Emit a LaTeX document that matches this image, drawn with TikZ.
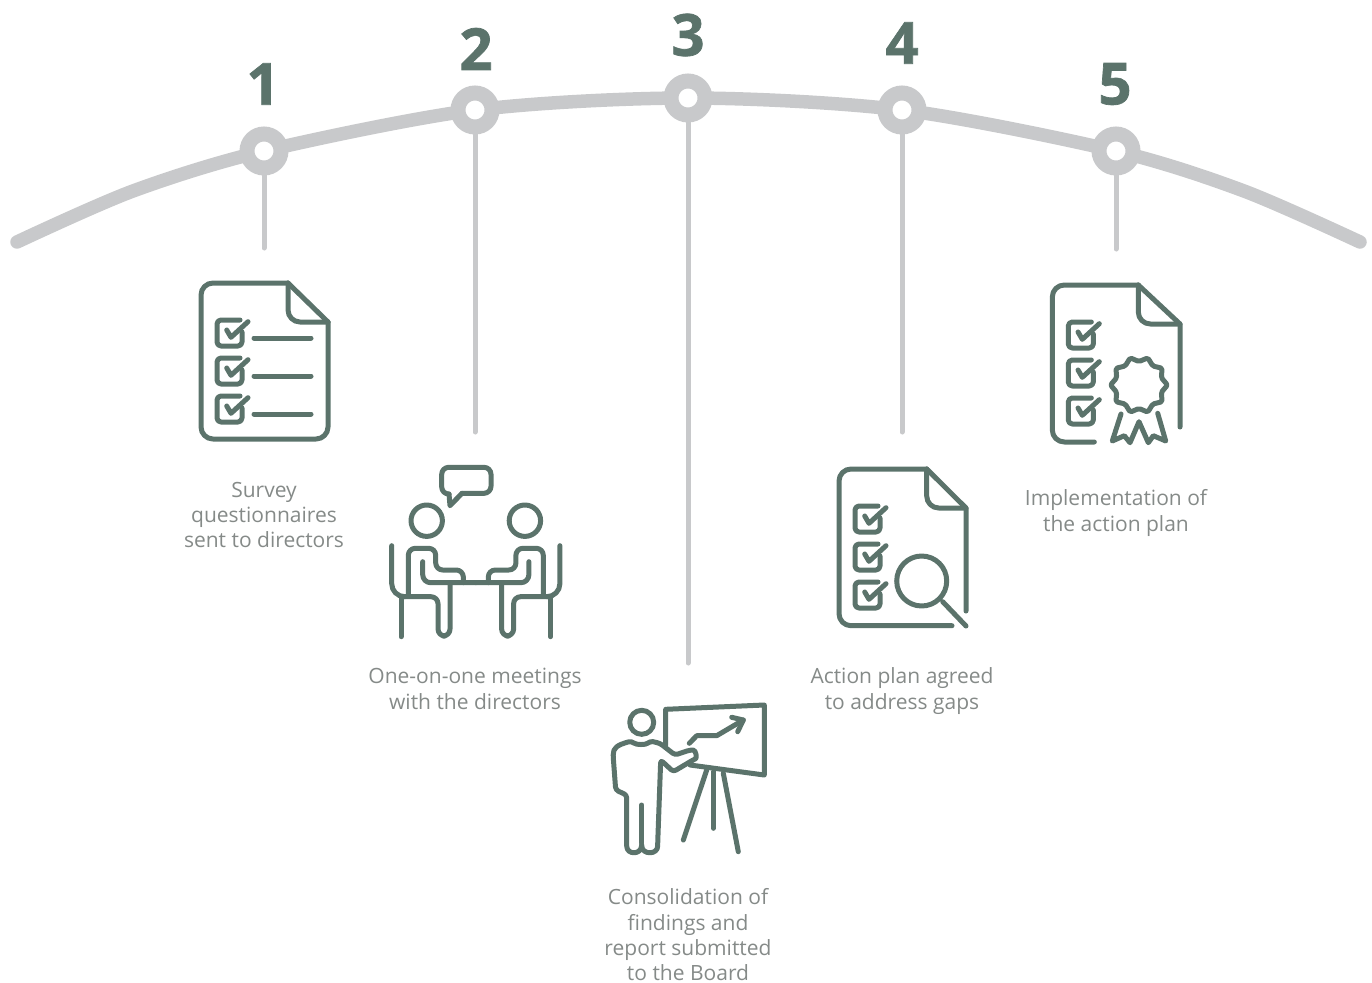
\documentclass[tikz,border=0pt]{standalone}
\usepackage{fontspec}
\setmainfont{Open Sans}[BoldFeatures={FakeBold=1.2}]
\definecolor{icongreen}{HTML}{5B736B}
\definecolor{arcgrey}{HTML}{C8C9CB}
\definecolor{textgrey}{HTML}{858A88}
\tikzset{
  icon/.style={draw=icongreen,line width=5pt,line cap=round,line join=round},
  arcline/.style={draw=arcgrey,line width=13.5pt,line cap=round},
  stem/.style={draw=arcgrey,line width=5pt,line cap=round},
  stepdot/.style={circle,draw=arcgrey,fill=white,line width=15pt,minimum size=34pt,inner sep=0pt},
  stepnum/.style={text=icongreen,inner sep=0pt,font=\bfseries\fontsize{58}{58}\selectfont},
  steptext/.style={text=textgrey,align=center,inner sep=0pt,font=\fontsize{21}{25.3}\selectfont},
  checkbox/.pic={
    \draw[icon,rounded corners=4pt] (25,12) -- (25,26) -- (0,26) -- (0,0) -- (23,0);
    \draw[icon] (9.7,10) -- (14,17.3) -- (31,1.7);
  },
  sitter/.pic={
    \draw[icon] (426.7,520.7) circle (15.7);
    \draw[icon,rounded corners=13pt] (391.7,545.7) -- (391.7,596.7) -- (401,596.7);
    \draw[icon] (401,596.7) -- (401,636.7);
    \draw[icon,rounded corners=7pt] (401,596.7) -- (438,596.7) -- (438,636) -- (450,636) -- (450,582.7);
    \draw[icon,rounded corners=8pt] (422.7,561.7) -- (422.7,582.7) -- (475.8,582.7);
    \draw[icon,rounded corners=7pt] (408.3,594.3) -- (408.3,548.3) -- (435.7,548.3) -- (435.7,570) -- (463.3,570) -- (463.3,582.7);
  }
}
\begin{document}
\begin{tikzpicture}[x=1pt,y=-1pt]
\useasboundingbox (0,0) rectangle (1372,982);

% Timeline
\coordinate (a) at (17,242);
\coordinate (b) at (1360,242);
\coordinate (c) at (133,191);
\coordinate (d) at (1244,191);
\foreach \i/\x/\y in {1/264/151,2/475/110,3/688/98,4/902/110,5/1116/151}
  \coordinate (p\i) at (\x,\y);
\draw[arcline] plot[smooth] coordinates {(a) (c) (p1) (p2) (p3) (p4) (p5) (d) (b)};
\foreach \i in {1,...,5}
  \node[stepdot] (n\i) at (p\i) {};

% Stems
\foreach \i/\x/\y in {1/264/248,2/475/432,3/688/663,4/902/432,5/1116/249}{
  \coordinate (s\i) at (\x,\y);
  \draw[stem] (n\i) -- (s\i);
}

% Numbers
\node[stepnum] (num1) at (263,84) {1};
\node[stepnum] (num2) at (476,49) {2};
\node[stepnum] (num3) at (688,35) {3};
\node[stepnum] (num4) at (902,43) {4};
\node[stepnum] (num5) at (1115,84) {5};

% Survey page
\begin{scope}[shift={(201,283)}]
\draw[icon,rounded corners=12pt] (87,0) -- (0,0) -- (0,156) -- (127,156) -- (127,39);
\draw[icon] (87,0) -- (127,39);
\draw[icon,rounded corners=12pt] (87,0) -- (87,39) -- (127,39);
\foreach \y in {37,75,113}{
  \pic at (16,\y) {checkbox};
  \draw[icon] (53,\y+18) -- (110,\y+18);
}
\end{scope}
\node[steptext] (label1) at (264,515) {Survey\\questionnaires\\sent to directors};

% Meeting
\draw[icon,rounded corners=7pt] (462,493.3) -- (491,493.3) -- (491,467.3) -- (441.7,467.3) -- (441.7,494) -- (449,494);
\draw[icon] (449,494) -- (450,505.7) -- (462,493.3);
\pic at (0,0) {sitter};
\pic[xscale=-1] at (951.6,0) {sitter};
\node[steptext] (label2) at (475,689) {One-on-one meetings\\with the directors};

% Presenter
\draw[icon] (641.7,722.3) circle (12);
\draw[icon,rounded corners=3pt] (660.7,760) -- (657.7,843) .. controls (657.7,855) and (642,855) .. (641.7,843) .. controls (641,855) and (626.7,855) .. (626.7,843) -- (626.7,795) -- (615.7,790) -- (613.3,758) .. controls (613,748) and (617,745) .. (631.7,741) .. controls (636,745) and (646,745) .. (650,741) -- (660,743.3) -- (675,755) -- (690,750) .. controls (696,750) and (697,758) .. (693,760) -- (673.3,771.7) -- cycle;
\draw[icon] (641.7,805) -- (641.7,843);
\draw[icon] (665.7,745) -- (665.7,709.3) -- (764.3,705) -- (764.3,775) -- (690,765);
\draw[icon] (689.3,743.3) -- (696.7,735.7) -- (716.7,735.7) -- (743.3,720);
\draw[icon] (731.7,717.3) -- (743.3,720) -- (737.7,731.7);
\draw[icon] (706.7,770) -- (683.3,840);
\draw[icon] (713.3,771.7) -- (713.3,828.3);
\draw[icon] (723.3,773.3) -- (738.3,851.7);
\node[steptext] (label3) at (688,935) {Consolidation of\\findings and\\report submitted\\to the Board};

% Action plan page
\begin{scope}[shift={(839,469)}]
\draw[icon,rounded corners=12pt] (113,156.7) -- (0,156.7) -- (0,0) -- (87.7,0);
\draw[icon] (87.7,0) -- (127,39) -- (127,142);
\draw[icon,rounded corners=12pt] (87.7,0) -- (87.7,39) -- (127,39);
\foreach \y in {37,75,113}
  \pic at (16,\y) {checkbox};
\draw[icon] (82.7,112) circle (25);
\draw[icon] (103.7,132.7) -- (127,157);
\end{scope}
\node[steptext] (label4) at (902,691) {Action plan agreed\\to address gaps};

% Implementation page
\begin{scope}[shift={(1052.3,285)}]
\draw[icon,rounded corners=12pt] (42,157) -- (0,157) -- (0,0) -- (86,0);
\draw[icon] (86,0) -- (127.7,39) -- (127.7,142);
\draw[icon,rounded corners=12pt] (86,0) -- (86,39) -- (127.7,39);
\foreach \y in {37,75,113}
  \pic at (16,\y) {checkbox};
\begin{scope}[shift={(86.7,100)}]
\draw[icon,rounded corners=1.5pt] (0:28.5) \foreach \a in {18,36,...,342}{
  -- (\a:{28.5-5*mod(\a/18,2)})
} -- cycle;
\end{scope}
\draw[icon] (68.7,129) -- (60,156) -- (72,150.7) -- (77.7,157.7) -- (86.7,136.7) -- (96,157.7) -- (101,150.7) -- (113.4,156) -- (105.4,128.3);
\end{scope}
\node[steptext] (label5) at (1116,513) {Implementation of\\the action plan};
\end{tikzpicture}
\end{document}
